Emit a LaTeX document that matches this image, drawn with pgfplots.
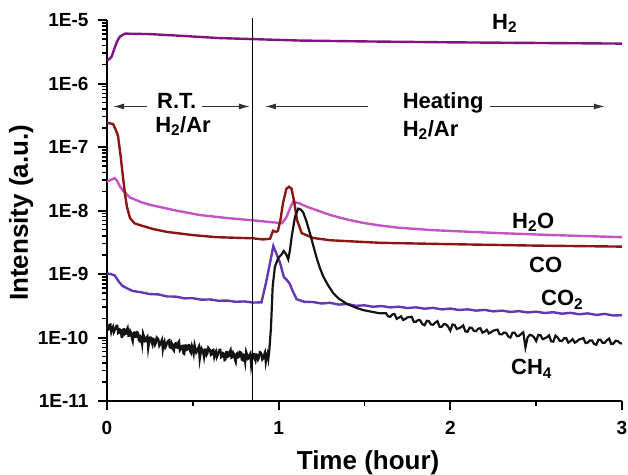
\documentclass[border=0pt]{standalone}
\usepackage{fontspec}
\setmainfont{Liberation Sans}
\usepackage{pgfplots}
\pgfplotsset{compat=1.18}
\usetikzlibrary{arrows.meta}
\definecolor{cH2}{RGB}{130,20,130}
\definecolor{cH2O}{RGB}{195,85,195}
\definecolor{cCO}{RGB}{140,22,20}
\definecolor{cCO2}{RGB}{100,55,180}
\definecolor{cCH4}{RGB}{20,20,20}
\definecolor{arr}{RGB}{50,50,50}
\newcommand{\tickfont}{\fontsize{19bp}{22bp}\selectfont\bfseries}
\newcommand{\labfont}{\fontsize{26bp}{30bp}\selectfont\bfseries}
\newcommand{\annfont}{\fontsize{22bp}{26bp}\selectfont\bfseries}
\begin{document}
\begin{tikzpicture}
\begin{axis}[name=ax, scale only axis, width=515bp, height=381bp,
  ymode=log,
  xmin=0, xmax=3, ymin=1e-11, ymax=1e-5,
  axis lines*=left,
  axis line style={line width=2bp, black},
  clip=false,
  xtick={0,1,2,3}, xticklabels={0,1,2,3}, minor xtick={0.5,1.5,2.5},
  ytick={1e-11,1e-10,1e-9,1e-8,1e-7,1e-6,1e-5},
  yticklabels={1E-11,1E-10,1E-9,1E-8,1E-7,1E-6,1E-5},
  minor ytick={2e-11,3e-11,4e-11,5e-11,6e-11,7e-11,8e-11,9e-11,
    2e-10,3e-10,4e-10,5e-10,6e-10,7e-10,8e-10,9e-10,
    2e-9,3e-9,4e-9,5e-9,6e-9,7e-9,8e-9,9e-9,
    2e-8,3e-8,4e-8,5e-8,6e-8,7e-8,8e-8,9e-8,
    2e-7,3e-7,4e-7,5e-7,6e-7,7e-7,8e-7,9e-7,
    2e-6,3e-6,4e-6,5e-6,6e-6,7e-6,8e-6,9e-6},
  tick align=outside, major tick length=9bp, minor tick length=5bp,
  tick style={draw=black, line width=2bp},
  minor tick style={draw=black, line width=1.5bp},
  tick label style={font=\tickfont, black},
  yticklabel style={xshift=-6bp},
  xticklabel style={yshift=-8bp},
  xlabel={Time (hour)}, ylabel={Intensity (a.u.)},
  label style={font=\labfont, black},
  xlabel style={at={(axis description cs:0.507,-0.181)}, anchor=base},
  ylabel style={at={(axis description cs:-0.1534,0.494)}, anchor=base, rotate=0},
]
% H2
\addplot[cH2, line width=2.4bp] coordinates {
(0,2.3e-6) (0.015,2.45e-6) (0.027,2.65e-6) (0.047,3.8e-6) (0.062,4.8e-6)
(0.076,5.5e-6) (0.105,6.1e-6) (0.25,6.0e-6) (0.45,5.6e-6) (0.65,5.2e-6)
(0.85,5.0e-6) (1.12,4.75e-6) (1.5,4.6e-6) (2.0,4.45e-6) (2.5,4.35e-6) (3.0,4.25e-6)};
% H2O
\addplot[cH2O, line width=2.4bp] coordinates {
(0,2.9e-8) (0.02,3.0e-8) (0.045,3.25e-8) (0.06,2.9e-8) (0.075,2.4e-8)
(0.093,2.05e-8) (0.134,1.6e-8) (0.2,1.35e-8) (0.25,1.23e-8) (0.4,1.0e-8)
(0.54,8.5e-9) (0.7,7.6e-9) (0.85,7.0e-9) (1.02,6.3e-9) (1.047,8.0e-9)
(1.07,1.15e-8) (1.085,1.38e-8) (1.12,1.3e-8) (1.163,1.15e-8) (1.3,8.5e-9)
(1.4,7.2e-9) (1.49,6.4e-9) (1.59,5.8e-9) (1.7,5.35e-9) (1.9,4.9e-9)
(2.29,4.4e-9) (2.6,4.1e-9) (3.0,3.8e-9)};
% CO
\addplot[cCO, line width=2.4bp] coordinates {
(0,2.4e-7) (0.02,2.35e-7) (0.035,2.3e-7) (0.05,1.9e-7) (0.064,1.5e-7)
(0.08,7e-8) (0.093,3.4e-8) (0.105,1.8e-8) (0.116,1.15e-8) (0.134,7.6e-9)
(0.16,6.3e-9) (0.19,5.9e-9) (0.27,5.1e-9) (0.35,4.6e-9) (0.5,4.1e-9)
(0.64,3.8e-9) (0.85,3.65e-9) (0.91,3.5e-9) (0.95,3.6e-9) (0.967,4.8e-9)
(0.985,4.6e-9) (0.996,4.8e-9) (1.01,7e-9) (1.025,1.3e-8) (1.045,2.2e-8)
(1.06,2.37e-8) (1.075,2.2e-8) (1.09,1.4e-8) (1.107,7.1e-9) (1.134,4.4e-9)
(1.2,3.7e-9) (1.3,3.4e-9) (1.59,3.1e-9) (2.0,2.95e-9) (2.5,2.8e-9) (3.0,2.7e-9)};
% CO2
\addplot[cCO2, line width=2.4bp] coordinates {
(0,1.02e-9) (0.02,1.0e-9) (0.045,9.5e-10) (0.07,7.5e-10) (0.09,6.5e-10)
(0.12,5.9e-10) (0.15,5.4e-10) (0.2,5.15e-10) (0.25,4.83e-10) (0.3,4.77e-10)
(0.35,4.43e-10) (0.4,4.41e-10) (0.45,4.14e-10) (0.5,4.16e-10) (0.55,3.94e-10)
(0.6,3.98e-10) (0.65,3.79e-10) (0.7,3.82e-10) (0.75,3.65e-10) (0.8,3.7e-10)
(0.85,3.55e-10) (0.9,3.58e-10) (0.93,8.1e-10) (0.969,2.75e-9) (1.008,1.5e-9)
(1.03,9e-10) (1.047,8.1e-10) (1.065,7e-10) (1.08,5.5e-10) (1.105,4.0e-10)
(1.15,3.65e-10) (1.2,3.62e-10) (1.25,3.43e-10) (1.3,3.52e-10) (1.35,3.3e-10)
(1.4,3.37e-10) (1.45,3.16e-10) (1.5,3.21e-10) (1.55,3.05e-10) (1.6,3.13e-10)
(1.65,2.98e-10) (1.7,3.06e-10) (1.75,2.91e-10) (1.8,2.99e-10) (1.85,2.84e-10)
(1.9,2.93e-10) (1.95,2.77e-10) (2.0,2.86e-10) (2.05,2.71e-10) (2.1,2.78e-10)
(2.15,2.65e-10) (2.2,2.72e-10) (2.25,2.58e-10) (2.3,2.65e-10) (2.35,2.53e-10)
(2.4,2.6e-10) (2.45,2.48e-10) (2.5,2.55e-10) (2.55,2.43e-10) (2.6,2.5e-10)
(2.65,2.37e-10) (2.7,2.45e-10) (2.75,2.32e-10) (2.8,2.4e-10) (2.85,2.27e-10)
(2.9,2.35e-10) (2.95,2.22e-10) (3.0,2.25e-10)};
% CH4
\addplot[cCH4, line width=2.2bp] coordinates {
(0.000,16.0e-11) (0.005,13.2e-11) (0.010,13.5e-11) (0.015,15.8e-11) (0.020,16.0e-11)
(0.025,12.2e-11) (0.030,13.6e-11) (0.035,14.7e-11) (0.040,12.1e-11) (0.045,13.0e-11)
(0.050,14.2e-11) (0.055,15.3e-11) (0.060,15.3e-11) (0.065,11.7e-11) (0.070,11.9e-11)
(0.075,13.4e-11) (0.080,13.1e-11) (0.085,10.2e-11) (0.090,10.3e-11) (0.095,13.4e-11)
(0.100,13.5e-11) (0.105,11.3e-11) (0.110,11.5e-11) (0.115,13.4e-11) (0.120,14.3e-11)
(0.125,10.6e-11) (0.130,10.7e-11) (0.135,12.7e-11) (0.140,11.9e-11) (0.145,9.7e-11)
(0.150,8.7e-11) (0.155,11.8e-11) (0.160,12.0e-11) (0.165,10.3e-11) (0.170,10.3e-11)
(0.175,12.1e-11) (0.180,11.9e-11) (0.185,9.1e-11) (0.190,8.8e-11) (0.195,10.4e-11)
(0.200,10.0e-11) (0.205,7.9e-11) (0.210,11.6e-11) (0.215,10.5e-11) (0.220,8.7e-11)
(0.225,8.8e-11) (0.230,10.0e-11) (0.235,10.4e-11) (0.240,6.7e-11) (0.245,8.3e-11)
(0.250,10.0e-11) (0.255,10.0e-11) (0.260,8.5e-11) (0.265,7.7e-11) (0.270,9.5e-11)
(0.275,9.3e-11) (0.280,7.7e-11) (0.285,8.2e-11) (0.290,10.0e-11) (0.295,9.7e-11)
(0.300,9.2e-11) (0.305,7.4e-11) (0.310,7.8e-11) (0.315,8.5e-11) (0.320,9.2e-11)
(0.325,6.5e-11) (0.330,7.9e-11) (0.335,8.7e-11) (0.340,7.0e-11) (0.345,7.4e-11)
(0.350,8.3e-11) (0.355,8.8e-11) (0.360,9.0e-11) (0.365,7.0e-11) (0.370,6.9e-11)
(0.375,8.4e-11) (0.380,7.8e-11) (0.385,6.5e-11) (0.390,6.2e-11) (0.395,7.9e-11)
(0.400,8.1e-11) (0.405,7.0e-11) (0.410,6.9e-11) (0.415,8.3e-11) (0.420,8.7e-11)
(0.425,6.3e-11) (0.430,6.6e-11) (0.435,7.3e-11) (0.440,7.4e-11) (0.445,5.6e-11)
(0.450,5.5e-11) (0.455,7.5e-11) (0.460,7.5e-11) (0.465,6.4e-11) (0.470,6.5e-11)
(0.475,7.6e-11) (0.480,7.6e-11) (0.485,6.0e-11) (0.490,5.7e-11) (0.495,7.3e-11)
(0.500,6.6e-11) (0.505,5.6e-11) (0.510,7.7e-11) (0.515,6.8e-11) (0.520,5.8e-11)
(0.525,6.1e-11) (0.530,6.7e-11) (0.535,7.2e-11) (0.540,4.5e-11) (0.545,5.5e-11)
(0.550,6.8e-11) (0.555,6.4e-11) (0.560,5.8e-11) (0.565,4.9e-11) (0.570,6.5e-11)
(0.575,6.5e-11) (0.580,5.3e-11) (0.585,5.6e-11) (0.590,6.9e-11) (0.595,6.6e-11)
(0.600,6.4e-11) (0.605,5.3e-11) (0.610,5.4e-11) (0.615,6.3e-11) (0.620,6.4e-11)
(0.625,4.9e-11) (0.630,5.5e-11) (0.635,6.0e-11) (0.640,4.9e-11) (0.645,5.3e-11)
(0.650,5.9e-11) (0.655,6.4e-11) (0.660,6.4e-11) (0.665,4.9e-11) (0.670,5.0e-11)
(0.675,5.7e-11) (0.680,5.6e-11) (0.685,4.4e-11) (0.690,4.5e-11) (0.695,5.9e-11)
(0.700,5.9e-11) (0.705,5.0e-11) (0.710,5.1e-11) (0.715,6.0e-11) (0.720,6.4e-11)
(0.725,4.8e-11) (0.730,4.9e-11) (0.735,5.8e-11) (0.740,5.5e-11) (0.745,4.5e-11)
(0.750,4.1e-11) (0.755,5.5e-11) (0.760,5.7e-11) (0.765,4.9e-11) (0.770,5.0e-11)
(0.775,5.9e-11) (0.780,5.8e-11) (0.785,4.5e-11) (0.790,4.4e-11) (0.795,5.3e-11)
(0.800,5.1e-11) (0.805,4.1e-11) (0.810,6.0e-11) (0.815,5.5e-11) (0.820,4.6e-11)
(0.825,4.7e-11) (0.830,5.3e-11) (0.835,5.6e-11) (0.840,3.6e-11) (0.845,4.5e-11)
(0.850,5.5e-11) (0.855,5.5e-11) (0.860,4.7e-11) (0.865,4.3e-11) (0.870,5.4e-11)
(0.875,5.3e-11) (0.880,4.5e-11) (0.885,4.8e-11) (0.890,5.9e-11) (0.895,5.8e-11)
(0.900,5.5e-11) (0.905,4.5e-11) (0.910,4.7e-11) (0.915,5.3e-11) (0.920,5.8e-11)
(0.925,4.1e-11) (0.930,5.0e-11) (0.935,5.6e-11) (0.940,4.6e-11)
(0.945,6.0e-11) (0.955,1.4e-10) (0.965,6.3e-10) (0.978,1.3e-9) (0.998,1.8e-9)
(1.015,2.0e-9) (1.03,2.3e-9) (1.045,2.0e-9) (1.056,1.7e-9) (1.066,2.4e-9)
(1.076,3.9e-9) (1.095,7.9e-9) (1.114,1.07e-8) (1.13,1.03e-8) (1.143,9.3e-9)
(1.16,7.0e-9) (1.182,4.4e-9) (1.2,2.9e-9) (1.221,1.8e-9) (1.24,1.25e-9)
(1.26,9.1e-10) (1.29,6.5e-10) (1.318,5.0e-10) (1.35,4.1e-10) (1.396,3.4e-10)
(1.45,2.95e-10) (1.493,2.7e-10) (1.54,2.55e-10) (1.59,2.4e-10)
(1.6250,24.2e-11) (1.6375,21.5e-11) (1.6500,21.2e-11) (1.6625,23.1e-11)
(1.6750,23.4e-11) (1.6875,19.7e-11) (1.7000,20.5e-11) (1.7125,21.6e-11)
(1.7250,18.9e-11) (1.7375,19.6e-11) (1.7500,20.7e-11) (1.7625,21.0e-11)
(1.7750,21.2e-11) (1.7875,17.7e-11) (1.8000,17.7e-11) (1.8125,18.9e-11)
(1.8250,18.6e-11) (1.8375,16.2e-11) (1.8500,15.6e-11) (1.8625,18.3e-11)
(1.8750,18.1e-11) (1.8875,16.0e-11) (1.9000,15.9e-11) (1.9125,17.2e-11)
(1.9250,18.1e-11) (1.9375,14.8e-11) (1.9500,14.8e-11) (1.9625,16.3e-11)
(1.9750,16.0e-11) (1.9875,14.8e-11) (2.0000,12.8e-11) (2.0125,16.0e-11)
(2.0250,15.8e-11) (2.0375,13.6e-11) (2.0500,14.0e-11) (2.0625,14.5e-11)
(2.0750,15.5e-11) (2.0875,12.5e-11) (2.1000,12.3e-11) (2.1125,14.3e-11)
(2.1250,14.2e-11) (2.1375,12.7e-11) (2.1500,12.6e-11) (2.1625,13.8e-11)
(2.1750,14.0e-11) (2.1875,11.9e-11) (2.2000,12.4e-11) (2.2125,13.2e-11)
(2.2250,11.6e-11) (2.2375,12.1e-11) (2.2500,12.8e-11) (2.2625,13.1e-11)
(2.2750,13.3e-11) (2.2875,11.2e-11) (2.3000,11.2e-11) (2.3125,12.0e-11)
(2.3250,11.8e-11) (2.3375,10.4e-11) (2.3500,10.0e-11) (2.3625,11.9e-11)
(2.3750,11.9e-11) (2.3875,10.5e-11) (2.4000,10.6e-11) (2.4125,11.4e-11)
(2.4250,12.1e-11) (2.4375,7.0e-11) (2.4500,10.0e-11) (2.4625,11.0e-11)
(2.4750,10.8e-11) (2.4875,10.1e-11) (2.5000,8.8e-11) (2.5125,11.0e-11)
(2.5250,10.9e-11) (2.5375,9.4e-11) (2.5500,9.7e-11) (2.5625,10.1e-11)
(2.5750,10.8e-11) (2.5875,8.7e-11) (2.6000,8.6e-11) (2.6125,10.7e-11)
(2.6250,10.0e-11) (2.6375,8.9e-11) (2.6500,8.8e-11) (2.6625,9.7e-11)
(2.6750,9.8e-11) (2.6875,8.3e-11) (2.7000,8.8e-11) (2.7125,9.4e-11)
(2.7250,8.3e-11) (2.7375,8.7e-11) (2.7500,9.3e-11) (2.7625,9.5e-11)
(2.7750,9.8e-11) (2.7875,8.2e-11) (2.8000,8.3e-11) (2.8125,9.0e-11)
(2.8250,9.0e-11) (2.8375,7.9e-11) (2.8500,7.7e-11) (2.8625,9.2e-11)
(2.8750,9.2e-11) (2.8875,8.2e-11) (2.9000,8.3e-11) (2.9125,9.1e-11)
(2.9250,9.6e-11) (2.9375,7.9e-11) (2.9500,8.0e-11) (2.9625,8.9e-11)
(2.9750,8.8e-11) (2.9875,8.2e-11) (3.0000,8.0e-11)};
% vertical divider
\draw[black, line width=0.9bp] (axis cs:0.85,1e-11) -- (axis cs:0.85,1.07e-5);
% arrows
\draw[arr, line width=1.2bp, -{Latex[length=11bp,width=6bp]}] (axis cs:0.233,4.35e-7) -- (axis cs:0.035,4.35e-7);
\draw[arr, line width=1.2bp, -{Latex[length=11bp,width=6bp]}] (axis cs:0.553,4.35e-7) -- (axis cs:0.833,4.35e-7);
\draw[arr, line width=1.2bp, -{Latex[length=11bp,width=6bp]}] (axis cs:1.52,4.35e-7) -- (axis cs:0.92,4.35e-7);
\draw[arr, line width=1.2bp, -{Latex[length=11bp,width=6bp]}] (axis cs:2.23,4.35e-7) -- (axis cs:2.90,4.35e-7);
% annotations
\node[anchor=base west, font=\annfont, inner sep=0pt] at (axis cs:0.291,4.1e-7) {R.T.};
\node[anchor=base west, font=\annfont, inner sep=0pt] at (axis cs:0.28,1.72e-7) {H\textsubscript{2}/Ar};
\node[anchor=base west, font=\annfont, inner sep=0pt] at (axis cs:1.722,4.1e-7) {Heating};
\node[anchor=base west, font=\annfont, inner sep=0pt] at (axis cs:1.722,1.49e-7) {H\textsubscript{2}/Ar};
% species labels
\node[anchor=base west, font=\annfont, inner sep=0pt] at (axis cs:2.243,7.2e-6) {H\textsubscript{2}};
\node[anchor=base west, font=\annfont, inner sep=0pt] at (axis cs:2.359,5.3e-9) {H\textsubscript{2}O};
\node[anchor=base west, font=\annfont, inner sep=0pt] at (axis cs:2.458,1.07e-9) {CO};
\node[anchor=base west, font=\annfont, inner sep=0pt] at (axis cs:2.528,3.2e-10) {CO\textsubscript{2}};
\node[anchor=base west, font=\annfont, inner sep=0pt] at (axis cs:2.353,2.57e-11) {CH\textsubscript{4}};
\end{axis}
\pgfresetboundingbox
\path[use as bounding box] ([shift={(-107bp,-74bp)}]ax.south west) rectangle ([shift={(6bp,20bp)}]ax.north east);
\end{tikzpicture}
\end{document}
